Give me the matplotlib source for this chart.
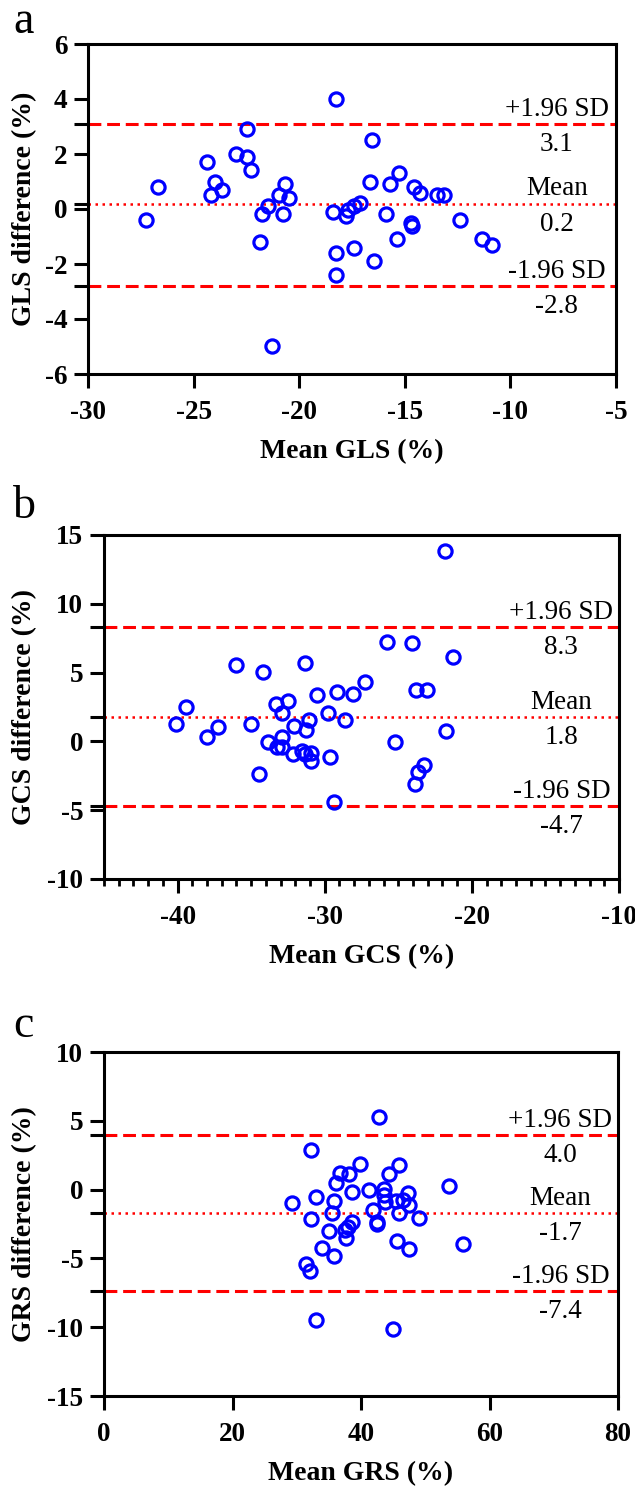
import matplotlib
matplotlib.use("Agg")
import matplotlib.pyplot as plt
from matplotlib.ticker import FixedLocator, FixedFormatter, MultipleLocator

plt.rcParams['font.family'] = ['Liberation Serif', 'DejaVu Serif']
plt.rcParams['axes.unicode_minus'] = False

# ---- data ----
# (a) GLS
gls_mean = [-18.27, -22.47, -16.57, -24.38, -22.99, -22.47, -22.27, -26.67, -23.97, -23.64,
            -24.16, -27.25, -20.66, -20.97, -20.47, -21.46, -21.78, -20.78, -21.86, -21.27,
            -18.39, -17.78, -17.67, -17.40, -17.12, -16.66, -15.70, -15.27, -14.58, -14.28,
            -13.46, -13.14, -15.89, -14.71, -14.67, -12.39, -11.36, -10.86, -15.35, -17.39,
            -18.27, -16.47, -18.27]
gls_diff = [4.00, 2.91, 2.51, 1.70, 2.00, 1.90, 1.41, 0.81, 0.99, 0.69,
            0.52, -0.40, 0.91, 0.52, 0.39, 0.12, -0.18, -0.18, -1.20, -4.98,
            -0.10, -0.25, -0.04, 0.12, 0.23, 0.99, 0.90, 1.30, 0.81, 0.59,
            0.50, 0.50, -0.18, -0.50, -0.62, -0.40, -1.10, -1.31, -1.10, -1.42,
            -1.59, -1.90, -2.40]
gls_lines = [3.1, 0.2, -2.8]

# (b) GCS
gcs_mean = [-21.84, -25.76, -24.06, -21.25, -36.03, -34.21, -31.36, -27.26, -29.18, -28.07,
            -30.50, -23.79, -23.02, -33.33, -32.49, -32.92, -39.40, -40.11, -37.25, -38.02,
            -35.01, -32.11, -31.27, -31.04, -29.77, -28.59, -32.88, -33.87, -33.26, -32.88,
            -32.13, -31.54, -31.36, -30.91, -30.91, -29.64, -34.46, -29.34, -25.20, -21.77,
            -23.27, -23.63, -23.88]
gcs_diff = [13.84, 7.25, 7.13, 6.14, 5.53, 5.03, 5.73, 4.32, 3.62, 3.43,
            3.36, 3.74, 3.74, 2.75, 2.97, 2.05, 2.53, 1.27, 1.06, 0.35,
            1.27, 1.15, 0.84, 1.56, 2.05, 1.56, 0.31, -0.03, -0.42, -0.42,
            -0.90, -0.71, -0.90, -0.81, -1.39, -1.15, -2.36, -4.44, -0.03, 0.74,
            -1.75, -2.23, -3.06]
gcs_lines = [8.3, 1.8, -4.7]

# (c) GRS
grs_mean = [42.77, 32.21, 39.87, 45.98, 36.66, 38.11, 44.32, 36.14, 53.70, 41.22,
            43.55, 38.63, 47.33, 33.04, 43.65, 29.25, 35.83, 43.76, 45.47, 46.60,
            47.53, 41.84, 35.46, 45.88, 32.21, 49.09, 42.46, 42.46, 38.63, 37.95,
            37.44, 35.00, 37.59, 45.56, 55.82, 47.53, 33.91, 35.73, 31.38, 32.00,
            32.93, 44.94]
grs_diff = [5.25, 2.88, 1.84, 1.77, 1.24, 1.14, 1.14, 0.46, 0.27, -0.02,
            0.03, -0.14, -0.22, -0.55, -0.38, -0.94, -0.82, -0.87, -0.80, -0.75,
            -1.11, -1.47, -1.71, -1.71, -2.15, -2.03, -2.37, -2.49, -2.37, -2.73,
            -2.93, -2.98, -3.53, -3.73, -3.94, -4.33, -4.26, -4.86, -5.42, -5.95,
            -9.51, -10.14]
grs_lines = [4.0, -1.7, -7.4]

line_names = ['+1.96 SD', 'Mean', '-1.96 SD']

W, H = 635, 1488
fig = plt.figure(figsize=(W / 100, H / 100), dpi=100)


def px_axes(x0, x1, y0, y1):
    # axes box given in pixels from the top-left corner
    return fig.add_axes([x0 / W, (H - y1) / H, (x1 - x0) / W, (y1 - y0) / H])


def draw_panel(ax, x, y, lines, xlim, ylim, xticks, yticks, xlabel, ylabel, letter, letter_y, ylab_y):
    ax.plot(x, y, 'o', ms=9.5, mfc='none', mec='#0000ff', mew=2.3, zorder=3)
    for i, v in enumerate(lines):
        if i == 1:
            ax.axhline(v, color='#ff0000', lw=1.8, dashes=(1.0, 1.8), dash_capstyle='butt', zorder=2)
        else:
            ax.axhline(v, color='#ff0000', lw=2.2, dashes=(4.2, 1.9), zorder=2)
        ax.annotate(line_names[i], xy=(0.888, v), xycoords=('axes fraction', 'data'),
                    xytext=(0, 5.8), textcoords='offset points', ha='center', va='baseline',
                    fontsize=19.5)
        ax.annotate('%.1f' % v, xy=(0.888, v), xycoords=('axes fraction', 'data'),
                    xytext=(0, -5.8), textcoords='offset points', ha='center', va='top',
                    fontsize=19.5)
    ax.set_xlim(*xlim)
    ax.set_ylim(*ylim)
    ax.set_xticks(xticks)
    # line values get their own unlabeled ticks
    ylocs = list(yticks) + list(lines)
    ylabs = ['%g' % t for t in yticks] + [''] * len(lines)
    ax.yaxis.set_major_locator(FixedLocator(ylocs))
    ax.yaxis.set_major_formatter(FixedFormatter(ylabs))
    for s in ax.spines.values():
        s.set_linewidth(2.2)
    ax.tick_params(axis='both', which='major', length=10, width=2.2, labelsize=19.5)
    ax.tick_params(axis='x', which='major', pad=9)
    ax.tick_params(axis='y', which='major', pad=5)
    ax.tick_params(axis='x', which='minor', length=5, width=2.0)
    for lab in ax.get_xticklabels() + ax.get_yticklabels():
        lab.set_fontweight('bold')
    ax.set_xlabel(xlabel, fontsize=20, fontweight='bold', labelpad=10)
    fig.text(25 / W, 1 - ylab_y / H, ylabel, rotation=90, ha='center', va='center',
             fontsize=20, fontweight='bold')
    fig.text(13 / W, 1 - letter_y / H, letter, ha='left', va='baseline', fontsize=33)


ax_a = px_axes(88, 616, 44, 374)
draw_panel(ax_a, gls_mean, gls_diff, gls_lines, (-30, -5), (-6, 6),
           [-30, -25, -20, -15, -10, -5], [-6, -4, -2, 0, 2, 4, 6],
           'Mean GLS (%)', 'GLS difference (%)', 'a', 33, 209)

ax_b = px_axes(104, 619, 535, 879)
draw_panel(ax_b, gcs_mean, gcs_diff, gcs_lines, (-45, -10), (-10, 15),
           [-40, -30, -20, -10], [-10, -5, 0, 5, 10, 15],
           'Mean GCS (%)', 'GCS difference (%)', 'b', 518, 707)
ax_b.xaxis.set_minor_locator(MultipleLocator(1))

ax_c = px_axes(104, 618, 1052, 1396)
draw_panel(ax_c, grs_mean, grs_diff, grs_lines, (0, 80), (-15, 10),
           [0, 20, 40, 60, 80], [-15, -10, -5, 0, 5, 10],
           'Mean GRS (%)', 'GRS difference (%)', 'c', 1037, 1224)

fig.savefig('out.png', dpi=100)
